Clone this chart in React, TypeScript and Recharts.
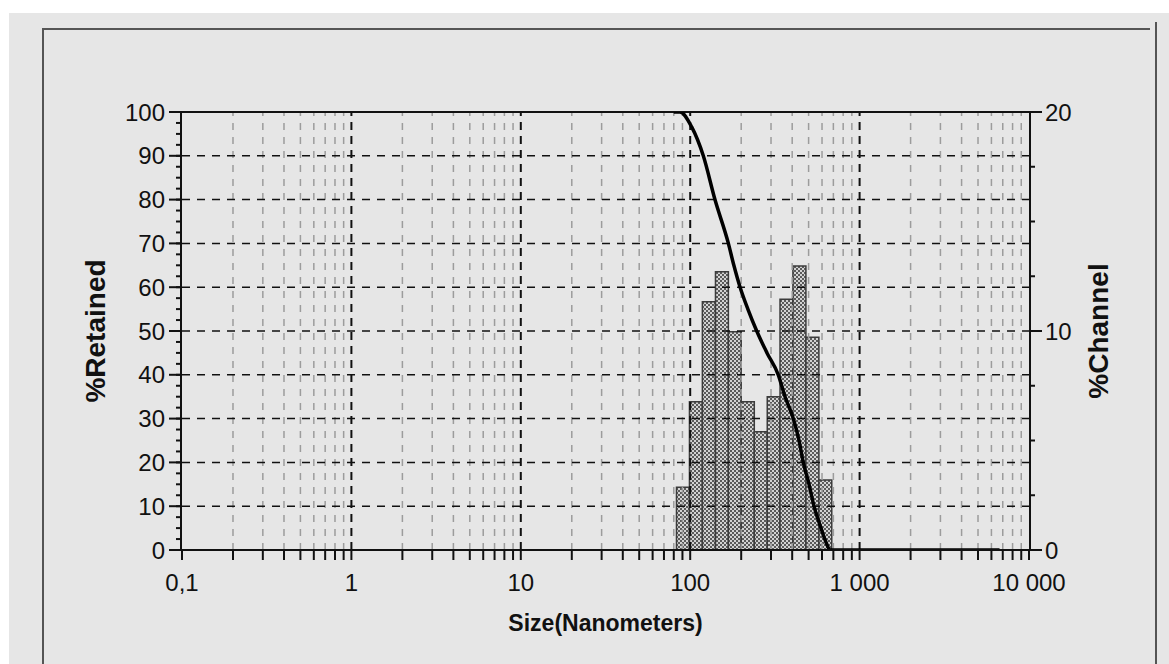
import React from 'react';
import {
  ComposedChart,
  Line,
  XAxis,
  YAxis,
  ReferenceArea,
  ReferenceLine,
} from 'recharts';

// histogram bins (nm) and % channel per bin
const binLow = [83, 99, 118, 141, 168, 200, 239, 285, 339, 404, 482, 575];
const binHigh = [99, 118, 141, 168, 200, 239, 285, 339, 404, 482, 575, 685];
const channelPct = [2.86, 6.77, 11.34, 12.71, 9.97, 6.77, 5.4, 7.0, 11.45, 12.97, 9.71, 3.2];

// cumulative % retained curve
const curveSize = [80, 87, 102, 119.5, 140, 168, 181, 197, 219, 247, 284, 331, 363, 406, 439, 465, 503, 538, 592, 630, 669, 1000, 6700];
const curveRetained = [100, 100, 96.6, 90, 80, 70, 65, 60, 55, 50, 45, 40, 35, 30, 25, 20, 15, 10, 5, 2, 0, 0, 0];

// axis ticks
const sizeDecades = [0.1, 1, 10, 100, 1000, 10000];
const sizeDecadeLabels = ['0,1', '1', '10', '100', '1 000', '10 000'];
const sizeMinor = [
  0.2, 0.3, 0.4, 0.5, 0.6, 0.7, 0.8, 0.9,
  2, 3, 4, 5, 6, 7, 8, 9,
  20, 30, 40, 50, 60, 70, 80, 90,
  200, 300, 400, 500, 600, 700, 800, 900,
  2000, 3000, 4000, 5000, 6000, 7000, 8000, 9000,
];
const retainedTicks = [0, 10, 20, 30, 40, 50, 60, 70, 80, 90, 100];
const retainedMinor = [0, 2.5, 5, 7.5, 10, 12.5, 15, 17.5, 20, 22.5, 25, 27.5, 30, 32.5, 35, 37.5, 40, 42.5, 45, 47.5, 50, 52.5, 55, 57.5, 60, 62.5, 65, 67.5, 70, 72.5, 75, 77.5, 80, 82.5, 85, 87.5, 90, 92.5, 95, 97.5, 100];
const channelTicks = [0, 10, 20];
const channelMinor = [0, 2.5, 5, 7.5, 10, 12.5, 15, 17.5, 20];
const hGrid = [10, 20, 30, 40, 50, 60, 70, 80, 90];
const vGridMajor = [1, 10, 100, 1000];

const curveData = curveSize.map((s, i) => ({ size: s, retained: curveRetained[i] }));
const allSizeTicks = [...sizeDecades, ...sizeMinor].sort((a, b) => a - b);

const FONT = '"Liberation Sans", Arial, sans-serif';
const tickStyle = { fill: '#111', fontSize: 24, fontFamily: FONT };
const axisStroke = { stroke: '#111', strokeWidth: 2 };

const formatSize = (v: number) => {
  const i = sizeDecades.indexOf(v);
  return i >= 0 ? sizeDecadeLabels[i] : '';
};

const NoLabel = () => <g />;

export default function App() {
  return (
    <div style={{ position: 'absolute', left: 0, top: 0, width: 1169, height: 664, background: '#fff', overflow: 'hidden' }}>
      <div style={{ position: 'absolute', left: 9, top: 13, right: 0, bottom: 0, background: '#e6e6e6' }} />
      <div style={{ position: 'absolute', left: 42, top: 28, width: 1106, height: 640, borderLeft: '2px solid #555', borderTop: '2px solid #555' }} />
      <div style={{ position: 'absolute', left: 1155, top: 22, width: 2, height: 650, background: '#555' }} />
      <div style={{ position: 'absolute', left: 0, top: 0 }}>
        <ComposedChart width={1169} height={664} margin={{ top: 112, right: 2, bottom: 14, left: 5 }}>
          <defs>
            <pattern id="checker" width="4" height="4" patternUnits="userSpaceOnUse">
              <rect width="4" height="4" fill="#d2d2d2" />
              <rect width="2" height="2" fill="#5a5a5a" />
              <rect x="2" y="2" width="2" height="2" fill="#5a5a5a" />
            </pattern>
          </defs>
          <XAxis
            xAxisId="size"
            dataKey="size"
            type="number"
            scale="log"
            domain={[0.1, 10000]}
            allowDataOverflow
            ticks={allSizeTicks}
            interval={0}
            tickFormatter={formatSize}
            tickSize={10}
            tickMargin={14}
            tick={tickStyle}
            tickLine={axisStroke}
            axisLine={axisStroke}
            height={100}
            label={{ value: 'Size(Nanometers)', position: 'center', dy: 23, style: { fontSize: 23, fontWeight: 'bold', fontFamily: FONT, fill: '#111' } }}
          />
          <YAxis
            yAxisId="minorRetained"
            orientation="left"
            type="number"
            domain={[0, 100]}
            allowDataOverflow
            ticks={retainedMinor}
            interval={0}
            width={1}
            tick={NoLabel}
            tickSize={6}
            tickLine={axisStroke}
            axisLine={false}
          />
          <YAxis
            yAxisId="retained"
            orientation="left"
            type="number"
            domain={[0, 100]}
            allowDataOverflow
            ticks={retainedTicks}
            interval={0}
            width={176}
            tickSize={12}
            tickMargin={4}
            tick={tickStyle}
            tickLine={axisStroke}
            axisLine={axisStroke}
            label={{ value: '%Retained', angle: -90, position: 'center', dx: 2, style: { fontSize: 28, fontWeight: 'bold', fontFamily: FONT, fill: '#111' } }}
          />
          <YAxis
            yAxisId="minorPct"
            orientation="right"
            type="number"
            domain={[0, 20]}
            allowDataOverflow
            ticks={channelMinor}
            interval={0}
            width={1}
            tick={NoLabel}
            tickSize={6}
            tickLine={axisStroke}
            axisLine={false}
          />
          <YAxis
            yAxisId="pct"
            orientation="right"
            type="number"
            domain={[0, 20]}
            allowDataOverflow
            ticks={channelTicks}
            interval={0}
            width={137}
            tickSize={12}
            tickMargin={3}
            tick={{ ...tickStyle, textAnchor: 'start' }}
            tickLine={axisStroke}
            axisLine={axisStroke}
            label={{ value: '%Channel', angle: -90, position: 'center', dx: 0, style: { fontSize: 28, fontWeight: 'bold', fontFamily: FONT, fill: '#111' } }}
          />

          {sizeMinor.map((s) => (
            <ReferenceLine key={'vm' + s} xAxisId="size" yAxisId="retained" x={s} stroke="#9c9c9c" strokeWidth={1.5} strokeDasharray="7 7" />
          ))}
          {vGridMajor.map((s) => (
            <ReferenceLine key={'vM' + s} xAxisId="size" yAxisId="retained" x={s} stroke="#111" strokeWidth={2} strokeDasharray="8 6" />
          ))}
          {hGrid.map((v) => (
            <ReferenceLine key={'h' + v} xAxisId="size" yAxisId="retained" y={v} stroke="#111" strokeWidth={1.5} strokeDasharray="8 7" />
          ))}
          <ReferenceLine xAxisId="size" yAxisId="retained" y={100} stroke="#111" strokeWidth={2} />

          {channelPct.map((v, i) => (
            <ReferenceArea
              key={'b' + i}
              xAxisId="size"
              yAxisId="pct"
              x1={binLow[i]}
              x2={binHigh[i]}
              y1={0}
              y2={v}
              fill="url(#checker)"
              fillOpacity={1}
              stroke="#3c3c3c"
              strokeWidth={1.5}
            />
          ))}

          <Line
            xAxisId="size"
            yAxisId="retained"
            data={curveData}
            dataKey="retained"
            type="monotone"
            stroke="#000"
            strokeWidth={3.5}
            dot={false}
            isAnimationActive={false}
          />
        </ComposedChart>
      </div>
    </div>
  );
}
